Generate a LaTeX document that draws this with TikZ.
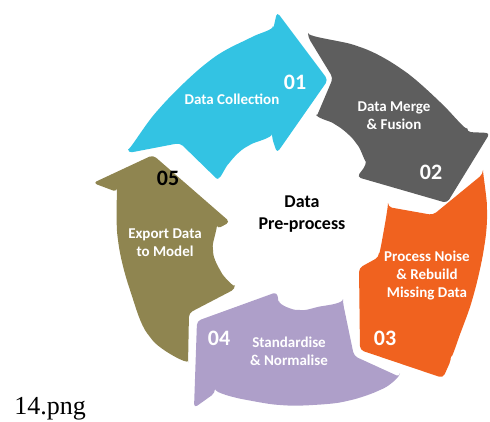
\documentclass[tikz,border=0pt]{standalone}
\usepackage{fontspec}
\setmainfont{Liberation Serif}
\newfontfamily\carl{Carlito}
\definecolor{ccyan}{HTML}{33C3E3}
\definecolor{cgray}{HTML}{5E5E5E}
\definecolor{corange}{HTML}{F0621F}
\definecolor{cpurple}{HTML}{AE9FC9}
\definecolor{colive}{HTML}{8F8550}
\begin{document}
\begin{tikzpicture}[x=1pt,y=-1pt,
  seg/.style={rounded corners=4pt},
  lbl/.style={font=\carl\bfseries\fontsize{15}{18}\selectfont, text=white, align=center, inner sep=0pt},
  num/.style={font=\carl\bfseries\fontsize{22}{26}\selectfont, text=white, inner sep=0pt},
  ctr/.style={font=\carl\bfseries\fontsize{18}{22}\selectfont, text=black, align=center, inner sep=0pt}]
\useasboundingbox (0,0) rectangle (490,422);
% 01 cyan
\fill[ccyan, seg] plot[smooth, tension=0.6] coordinates {(128,153) (158,110) (208,62) (250,38) (273,30)}
  -- (277,12) -- (328,80) -- (277,153) -- (272,138)
  -- plot[smooth, tension=0.6] coordinates {(272,138) (248,146) (230,162) (219,181)}
  -- (180,143) -- cycle;
% 02 gray
\fill[cgray, seg] plot[smooth, tension=0.6] coordinates {(308,37) (357,46) (400,68) (440,102) (467,132)}
  -- (490,133) -- (447,203) -- (357,177) -- (366,165)
  -- plot[smooth, tension=0.6] coordinates {(366,165) (356,143) (336,125) (316,118)}
  -- (333,78) -- cycle;
% 03 orange
\fill[corange, seg] plot[smooth, tension=0.6] coordinates {(483,174) (487,210) (484,248) (473,297) (458,340) (451,360)}
  -- (443,378) -- (360,350) -- (359,268) -- (379,257)
  -- plot[smooth, tension=0.6] coordinates {(379,257) (383,235) (388,207)}
  -- (433,215) -- cycle;
% 04 purple
\fill[cpurple, seg] plot[smooth, tension=0.6] coordinates {(400,377) (380,390) (347,401) (313,405) (280,405) (247,400) (215,393)}
  -- (194,408) -- (197,321) -- (277,292) -- (279,305)
  -- plot[smooth, tension=0.6] coordinates {(279,305) (300,310) (323,306) (343,303)}
  -- (354,356) -- cycle;
% 05 olive
\fill[colive, seg] plot[smooth, tension=0.6] coordinates {(188,365) (150,337) (130,290) (118,240) (117,192)}
  -- (93,183) -- (153,155) -- (230,222) -- (217,229)
  -- plot[smooth, tension=0.6] coordinates {(217,229) (213,250) (220,270) (235,289)}
  -- (189,313) -- cycle;
% labels
\node[num] (n01) at (295,82) {01};
\node[lbl] (t01) at (232,99) {Data Collection};
\node[lbl] (t02) at (394,116) {Data Merge\\\& Fusion};
\node[num] (n02) at (431,172) {02};
\node[ctr] (c) at (302,214) {Data\\Pre-process};
\node[lbl] (t03) at (427,276) {Process Noise\\\& Rebuild\\Missing Data};
\node[num] (n03) at (385,338) {03};
\node[num] (n04) at (219,338) {04};
\node[lbl] (t04) at (289,351) {Standardise\\\& Normalise};
\node[num, text=black] (n05) at (168,178) {05};
\node[lbl] (t05) at (165,243) {Export Data\\to Model};
\node[font=\fontsize{26}{30}\selectfont, inner sep=0pt] (cap) at (50,409) {14.png};
\end{tikzpicture}
\end{document}
